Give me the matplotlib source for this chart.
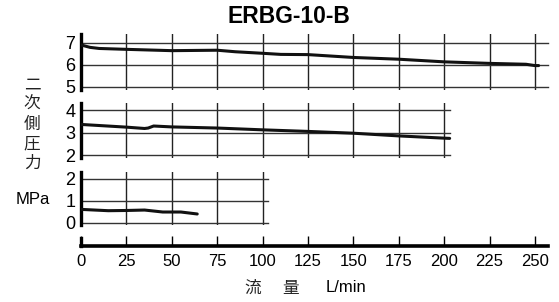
import matplotlib
matplotlib.use("Agg")
import matplotlib.pyplot as plt

plt.rcParams['font.family'] = ['Liberation Sans', 'DejaVu Sans']

# flow [L/min] vs secondary pressure [MPa], one curve per setting range
flow_hi = [0, 5, 10, 25, 50, 75, 85, 100, 110, 125, 150, 175, 200, 225, 245, 250, 252]
pres_hi = [6.91, 6.8, 6.75, 6.71, 6.65, 6.67, 6.6, 6.53, 6.48, 6.47, 6.34, 6.26, 6.14, 6.07, 6.03, 5.97, 5.97]

flow_mid = [0, 25, 35, 37, 40, 50, 75, 100, 125, 150, 175, 200, 203]
pres_mid = [3.36, 3.24, 3.18, 3.2, 3.29, 3.25, 3.2, 3.12, 3.05, 2.97, 2.85, 2.75, 2.74]

flow_lo = [0, 15, 25, 35, 45, 55, 64]
pres_lo = [0.61, 0.55, 0.56, 0.58, 0.49, 0.49, 0.40]

x_ticks = [0, 25, 50, 75, 100, 125, 150, 175, 200, 225, 250]

W, H = 559, 302
fig = plt.figure(figsize=(W / 100, H / 100), dpi=100)

x_left, x_right = 81, 547.7
cjk = ['Noto Sans CJK JP', 'DejaVu Sans']


def make_panel(top_px, bot_px, ylim, yticks, xmax, hmax, x, y):
    ax = fig.add_axes([x_left / W, 1 - bot_px / H, (x_right - x_left) / W, (bot_px - top_px) / H])
    ax.set_xlim(0, 257)
    ax.set_ylim(*ylim)
    for s in ['top', 'right', 'bottom']:
        ax.spines[s].set_visible(False)
    ax.spines['left'].set_linewidth(2.4)
    ax.set_xticks([])
    ax.set_yticks(yticks)
    ax.tick_params(axis='y', length=0, labelsize=13, pad=4)
    for v in [t for t in x_ticks if 0 < t <= xmax]:
        ax.axvline(v, color='#222222', lw=1.0, zorder=1)
    for yt in yticks:
        ax.plot([0, hmax], [yt, yt], color='#333333', lw=1.0, zorder=1, clip_on=False)
    ax.plot(x, y, color='#111111', lw=2.2, zorder=3, solid_capstyle='round')
    return ax


make_panel(34.2, 89.5, (4.88, 7.4), [5, 6, 7], 250, 257, flow_hi, pres_hi)
make_panel(103.3, 157.5, (1.89, 4.3), [2, 3, 4], 200, 203, flow_mid, pres_mid)
make_panel(171.7, 224.5, (-0.08, 2.33), [0, 1, 2], 100, 103, flow_lo, pres_lo)

# x axis strip
axx = fig.add_axes([x_left / W, 1 - 246 / H, (x_right - x_left) / W, 8 / H])
axx.set_xlim(0, 257)
axx.set_ylim(0, 1)
for s in ['top', 'right']:
    axx.spines[s].set_visible(False)
axx.spines['bottom'].set_linewidth(2.6)
axx.spines['left'].set_linewidth(2.4)
axx.set_yticks([])
axx.set_xticks(x_ticks)
axx.tick_params(axis='x', direction='in', length=7, width=1.0, labelsize=12, pad=6)

fig.text(289 / W, 1 - 16.5 / H, 'ERBG-10-B', ha='center', va='center',
         fontsize=16.5, fontweight='bold')
fig.text(32 / W, 1 - 124 / H, '\n'.join('二次側圧力'), ha='center', va='center',
         fontsize=12, linespacing=1.2, family=cjk, color='#222222')
fig.text(33 / W, 1 - 199 / H, 'MPa', ha='center', va='center', fontsize=12)
fig.text(253 / W, 1 - 288 / H, '流', ha='center', va='center', fontsize=12,
         family=cjk, color='#222222')
fig.text(291 / W, 1 - 288 / H, '量', ha='center', va='center', fontsize=12,
         family=cjk, color='#222222')
fig.text(346 / W, 1 - 288 / H, 'L/min', ha='center', va='center', fontsize=12)

fig.savefig('out.png', dpi=100)
